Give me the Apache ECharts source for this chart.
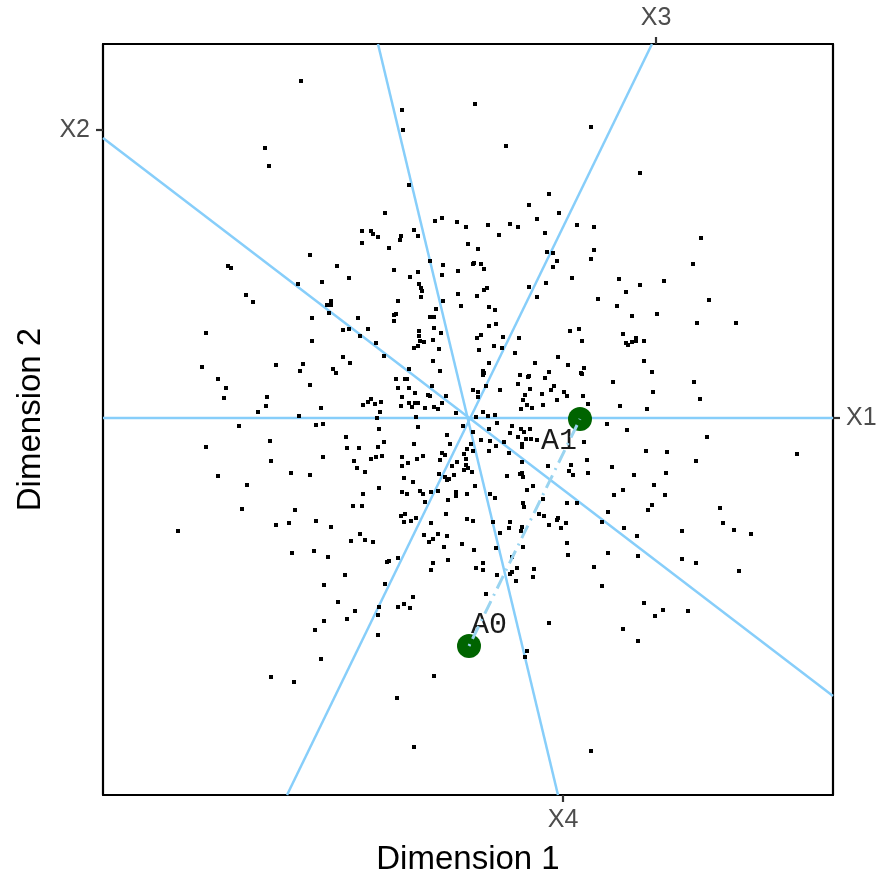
<!DOCTYPE html>
<html>
<head>
<meta charset="utf-8">
<script src="https://cdn.jsdelivr.net/npm/echarts@6/dist/echarts.min.js"></script>
<style>html,body{margin:0;padding:0;background:#fff}#c{width:882px;height:877px}</style>
</head>
<body>
<div id="c"></div>
<script>
// projected observations (Dimension 1, Dimension 2), units of 0.01
const points = [
[-168,337],[-204,270],[-200,252],[-84,205],[-107,187],[-98,187],[-96,184],[-91,181],[-107,175],
[-67,308],[6,314],[-66,288],[122,291],[37,272],[-60,233],[80,224],[60,213],[68,199],[90,205],
[-34,197],[-27,200],[-12,196],[-3,191],[19,193],[41,194],[49,191],[108,193],[125,191],[-55,188],
[-68,182],[-51,182],[-69,178],[30,183],[76,185],[-1,174],
[171,245],[232,180],
[-159,163],[-132,152],[-120,140],[-241,152],[-238,150],[-147,136],[-171,134],[-223,123],[-216,116],
[-138,117],[-142,113],[-138,113],[-140,105],[-157,100],[-111,100],[-126,88],[-120,89],[-101,89],
[-109,82],[-93,75],[-263,85],[-157,77],[-85,62],[-126,61],[-119,55],[-267,51],[-193,53],[-166,54],
[-169,47],[-136,49],[-133,45],[-251,39],[-243,30],[-159,33],[-245,20],[-202,21],[-203,12],[-211,6],
[-148,10],[-170,2],[-106,13],[-101,16],[-98,19],[-94,14],[-88,16],[-89,6],[-92,0],
[-80,170],[9,169],[78,166],[84,165],[125,168],[122,159],[88,157],[84,151],[-39,157],[-26,153],
[5,155],[12,154],[4,154],[15,149],[-75,148],[-51,146],[-11,147],[-27,143],[-59,141],[-50,134],
[-48,130],[-47,127],[-48,121],[103,140],[77,135],[60,131],[68,121],[15,128],[18,130],[-11,124],
[8,122],[-71,117],[-26,117],[129,119],[-8,112],[20,111],[26,108],[-33,109],[-75,103],[-73,104],
[-75,97],[-39,101],[-35,101],[27,94],[20,92],[-35,90],[-50,87],[-28,85],[-50,82],[101,87],
[110,89],[113,77],[8,80],[12,83],[34,81],[50,80],[-49,77],[-45,76],[-36,78],[-51,72],
[-55,70],[25,72],[33,70],[-30,69],[10,68],[46,65],[89,61],[-36,57],[20,55],[66,55],
[99,53],[115,50],[-60,49],[-29,47],[14,47],[14,43],[15,45],[80,46],[112,45],[113,44],
[51,43],[59,41],[60,42],[76,40],[-73,39],[-64,39],[-62,39],[49,34],[85,32],[-37,32],
[17,32],[-71,30],[-60,30],[61,29],[82,28],[4,28],[9,26],[31,28],[95,26],[-54,25],
[-41,23],[-39,22],[-23,22],[73,24],[98,22],[114,22],[-67,21],[56,23],[9,21],[54,18],
[88,18],[-60,15],[-54,15],[-51,15],[-27,15],[58,13],[74,13],[119,14],[-68,12],[-57,11],
[63,10],[-44,10],[-35,11],[-31,9],[52,9],[14,6],[-13,5],[19,2],[26,3],[-53,1],[7,1],
[224,154],[150,139],[171,133],[195,137],[157,126],[240,118],[148,112],[163,102],[188,104],[228,95],
[267,95],[154,84],[167,80],[157,75],[159,73],[163,76],[167,77],[175,77],[175,57],[183,46],
[144,36],[225,36],[184,26],[231,19],[151,12],[178,9],
[-230,-8],[-153,-7],[-146,-6],[-90,-11],[-123,-19],[-263,-29],[-199,-23],[-122,-30],[-110,-30],[-91,-29],
[-85,-24],[-146,-39],[-198,-43],[-115,-43],[-98,-41],[-93,-39],[-87,-38],[-112,-50],[-104,-54],[-251,-58],
[-178,-55],[-159,-57],[-222,-67],[-90,-70],[-106,-76],[-227,-91],[-174,-92],[-116,-88],[-107,-88],[-291,-113],
[-193,-107],[-180,-105],[-153,-103],[-138,-109],[-109,-116],[-118,-123],[-104,-122],[-96,-124],[-177,-135],[-155,-133],
[-141,-139],[-124,-157],[-145,-167],[-84,-166],
[-51,-9],[-22,-17],[-55,-26],[-19,-26],[-6,-8],[4,-14],[20,-11],[28,-5],[43,-8],[52,-11],
[61,-11],[41,-15],[55,-14],[49,-19],[57,-21],[62,-21],[68,-22],[12,-22],[21,-23],[35,-24],
[53,-26],[53,-29],[2,-26],[-2,-31],[4,-33],[20,-33],[27,-28],[40,-35],[115,-24],[118,-42],
[119,-55],[102,-47],[100,-53],[104,-57],[-67,-39],[-67,-48],[-52,-41],[-46,-38],[-61,-45],[-27,-35],
[-24,-37],[-5,-36],[-29,-42],[-12,-44],[-3,-41],[-17,-48],[-3,-47],[-5,-52],[-1,-50],[3,-54],
[53,-44],[79,-48],[-30,-56],[-24,-59],[-20,-61],[-22,-62],[-15,-57],[-65,-60],[-56,-64],[38,-58],
[51,-56],[53,-55],[54,-59],[6,-68],[64,-68],[58,-72],[-67,-74],[-62,-76],[-49,-73],[-46,-76],
[-38,-74],[-31,-73],[-13,-74],[-13,-78],[-2,-76],[21,-76],[26,-80],[-21,-82],[-44,-84],[54,-85],
[55,-89],[98,-85],[108,-85],[74,-81],[-64,-96],[-68,-98],[-65,-104],[-58,-103],[-53,-100],[-23,-96],
[-2,-101],[4,-103],[70,-96],[75,-98],[89,-100],[88,-102],[97,-105],[80,-107],[92,-110],[41,-104],
[40,-110],[24,-104],[53,-109],[52,-113],[-38,-105],[31,-115],[-45,-117],[-31,-116],[-22,-118],[-36,-121],
[-40,-124],[-7,-126],[-25,-129],[98,-125],[54,-129],[5,-132],[27,-130],[99,-137],[-71,-140],[-80,-143],
[-82,-144],[-21,-142],[-36,-145],[43,-139],[14,-145],[-38,-152],[7,-150],[14,-152],[48,-150],[65,-151],
[125,-149],[43,-154],[41,-156],[28,-157],[64,-159],[47,-163],[17,-176],
[138,-6],[158,-12],[238,-19],[328,-36],[177,-33],[198,-34],[227,-43],[143,-49],[165,-57],[197,-55],
[185,-67],[154,-72],[145,-77],[196,-77],[183,-87],[179,-92],[139,-94],[251,-90],[254,-105],[265,-112],
[282,-116],[133,-104],[155,-110],[168,-118],[213,-113],[139,-135],[169,-138],[213,-141],[227,-145],[270,-153],
[133,-168],
[-131,-184],[-114,-193],[-90,-189],[-91,-197],[-145,-203],[-122,-201],[-154,-212],[-91,-217],[-148,-241],[-198,-259],
[-175,-264],
[-56,-179],[-65,-186],[-71,-189],[-59,-190],[80,-205],[58,-233],[56,-239],[-35,-258],[-72,-280],[-55,-329],
[122,-333],
[175,-185],[194,-192],[186,-198],[219,-193],[154,-211],[169,-223]
];

// highlighted anchor points
const anchorNames = ['A0', 'A1'];
const anchorPoints = [[0,-228],[111,-1]];

// variable axes drawn through the origin (end points)
const axisX1 = [[-366,0],[364,0]];
const axisX2 = [[-366,280],[364,-278]];
const axisX3 = [[183,374],[-182,-377]];
const axisX4 = [[-91,374],[89,-377]];

// variable tick labels placed on the frame
const tickX1 = {name:'X1', value:0};    // right
const tickX2 = {name:'X2', value:288};  // left
const tickX3 = {name:'X3', value:187};  // top
const tickX4 = {name:'X4', value:94};   // bottom

const xRange = [-366, 364];
const yRange = [-377, 374];

const chart = echarts.init(document.getElementById('c'), null, {renderer:'canvas'});
const lineBlue = '#87CEFA';
const frame = {show:true, onZero:false, lineStyle:{color:'#000', width:2.2}};
const tickStyle = {length:7, lineStyle:{color:'#333', width:2.2}};
const tickText = {color:'#4D4D4D', fontSize:25, fontFamily:'Liberation Sans, Arial, sans-serif', margin:13};

function makeAxis(pos, range, tick, extra) {
  return Object.assign({
    type:'value', position:pos, min:range[0], max:range[1],
    axisLine:frame, splitLine:{show:false},
    axisTick:Object.assign({show:true, customValues:[tick.value]}, tickStyle),
    axisLabel:Object.assign({show:true, customValues:[tick.value], formatter:() => tick.name}, tickText)
  }, extra || {});
}

const axisLineSeries = [axisX1, axisX2, axisX3, axisX4].map((d, i) => ({
  type:'line', name:'axis'+(i+1), data:d, symbol:'none', silent:true, z:2,
  lineStyle:{color:lineBlue, width:2.5}, animation:false
}));

chart.setOption({
  animation:false,
  backgroundColor:'#fff',
  grid:{left:103, right:49, top:44, bottom:82, containLabel:false, outerBoundsMode:'none'},
  xAxis:[
    makeAxis('bottom', xRange, tickX4, {name:'Dimension 1', nameLocation:'middle', nameGap:48,
      nameTextStyle:{color:'#000', fontSize:33, fontFamily:'Liberation Sans, Arial, sans-serif'}}),
    makeAxis('top', xRange, tickX3)
  ],
  yAxis:[
    makeAxis('left', yRange, tickX2, {name:'Dimension 2', nameLocation:'middle', nameGap:56, nameRotate:90,
      nameTextStyle:{color:'#000', fontSize:33, fontFamily:'Liberation Sans, Arial, sans-serif'}}),
    makeAxis('right', yRange, tickX1)
  ],
  series:[
    ...axisLineSeries,
    {type:'scatter', name:'obs', data:points, symbol:'rect', symbolSize:4, z:3,
      itemStyle:{color:'#000', opacity:1}, silent:true},
    {type:'scatter', name:'anchors', z:4, symbol:'circle', symbolSize:24, silent:true,
      itemStyle:{color:'#006400', opacity:1},
      data:anchorPoints.map((p, i) => ({
        value:p, name:anchorNames[i],
        label:{show:true, position:'inside', offset: i === 0 ? [20,-21] : [-21,22],
          formatter:anchorNames[i], color:'#1a1a1a', fontSize:30,
          fontFamily:'Liberation Mono, Courier New, monospace'}
      }))},
    {type:'line', name:'path', data:anchorPoints, symbol:'none', z:5, silent:true,
      lineStyle:{color:'#9AD4F0', width:3, type:[2,6,14,6]}}
  ]
});
</script>
</body>
</html>
